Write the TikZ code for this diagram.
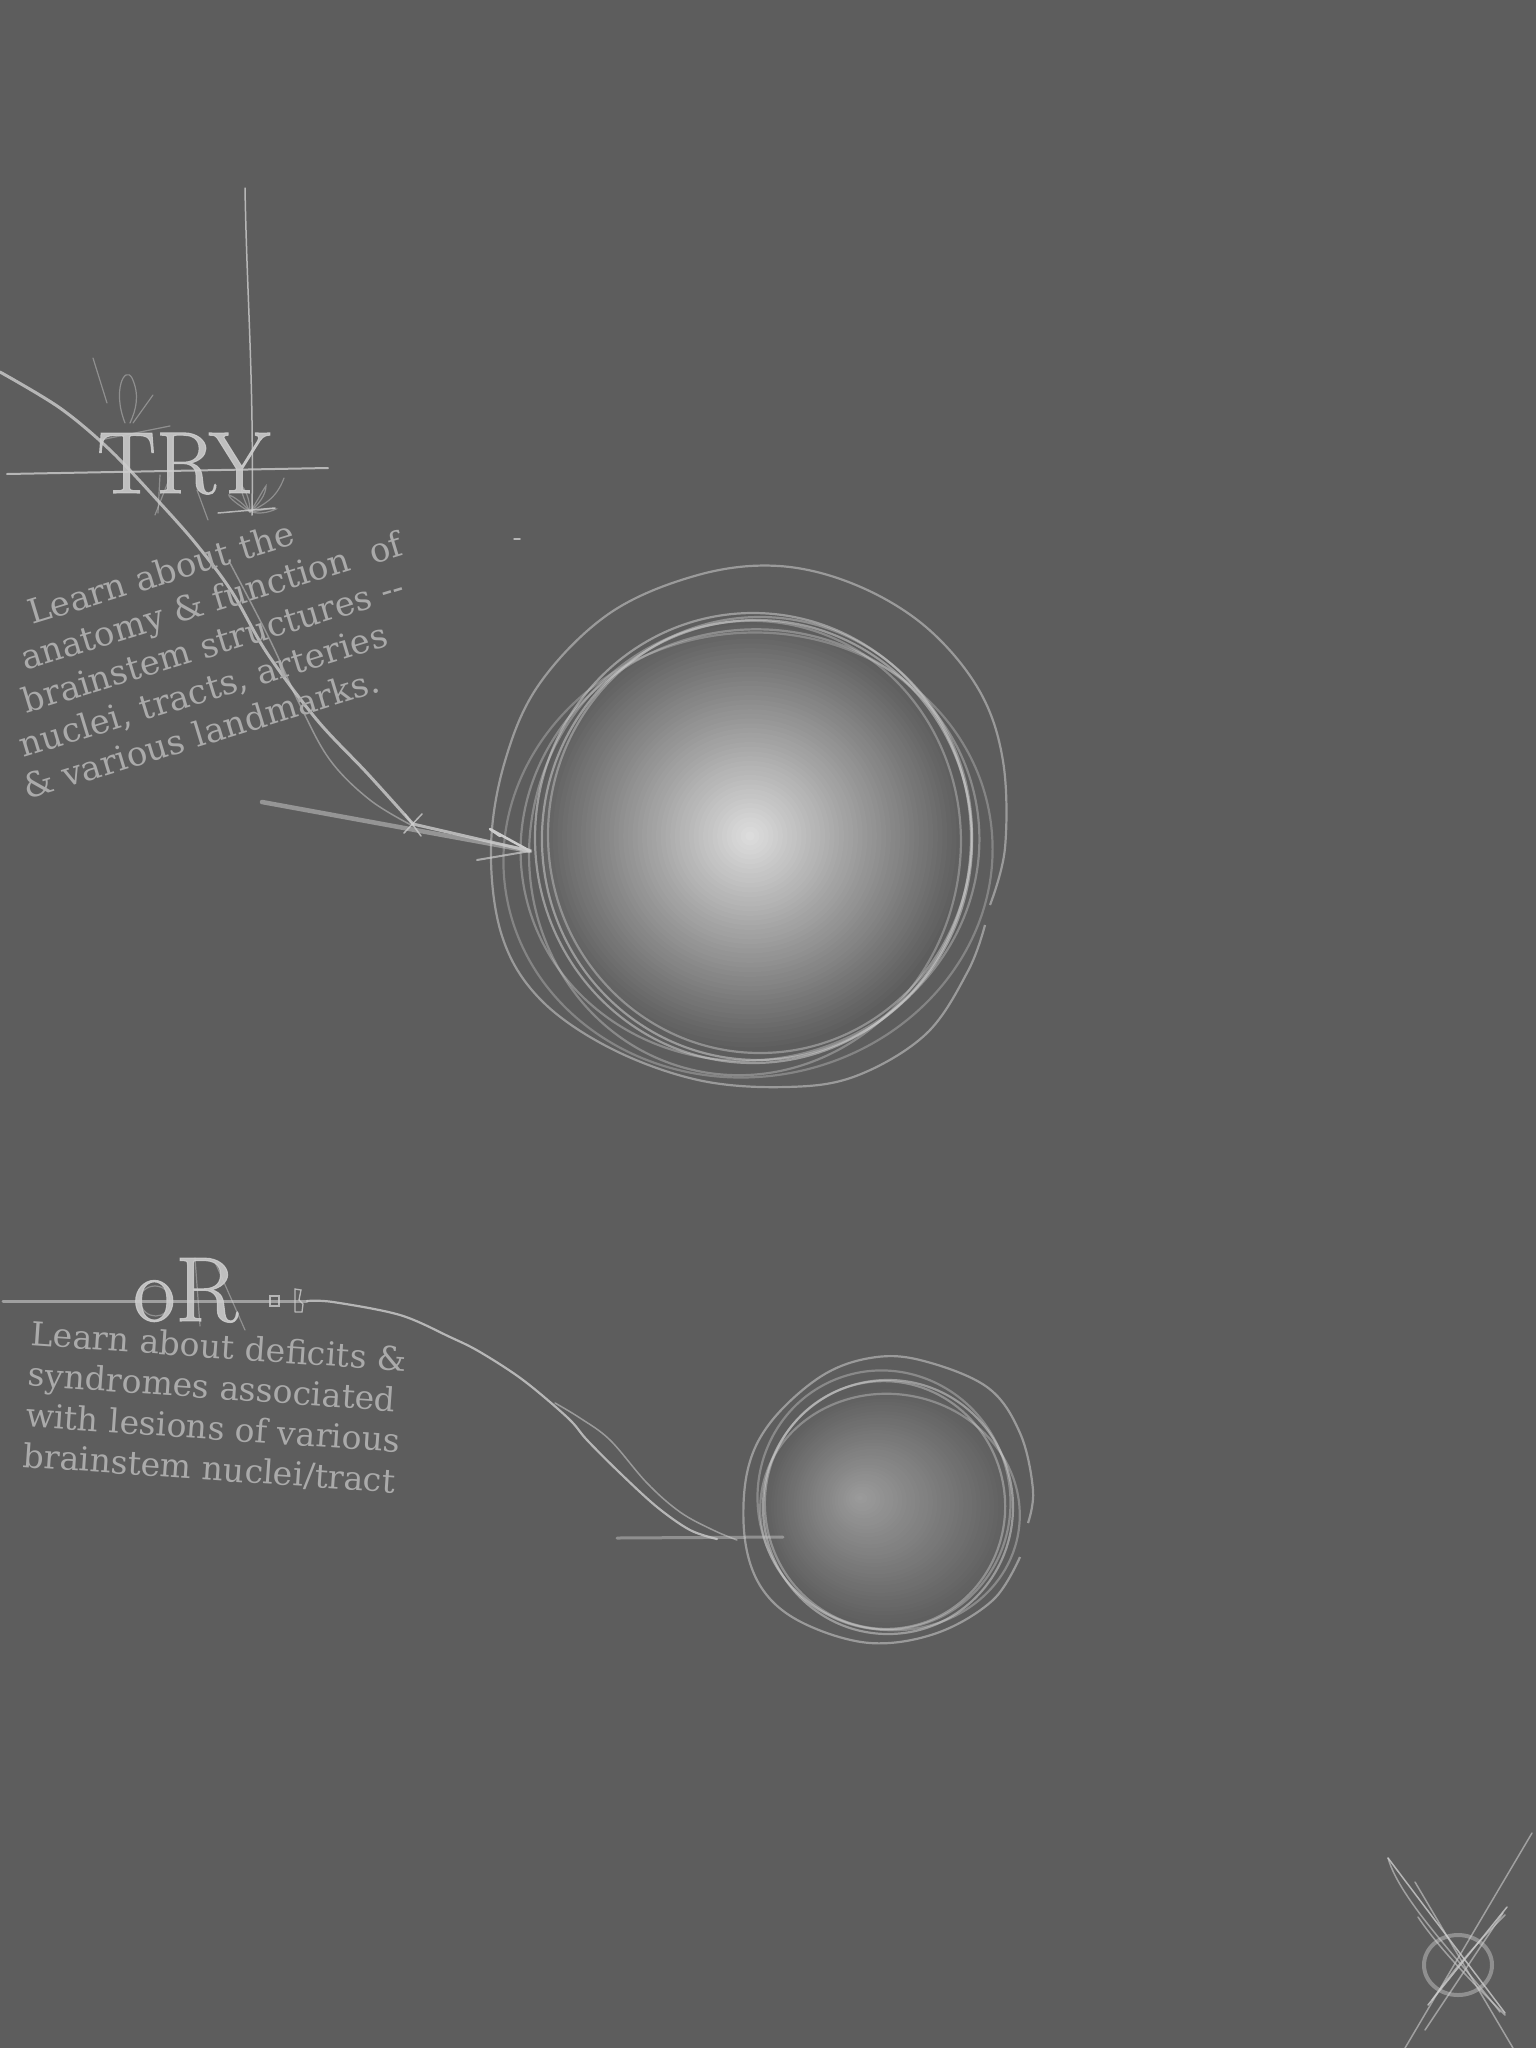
\documentclass[tikz,border=0pt]{standalone}
\usepackage{fontspec}
\newfontfamily\typefont{DejaVu Serif}
\newfontfamily\titlefont{Latin Modern Roman}[FakeBold=1.2]
\definecolor{bg}{RGB}{93,93,93}
\definecolor{ink}{RGB}{205,205,205}
\definecolor{txt}{RGB}{170,170,170}
\definecolor{ballhi}{RGB}{220,220,220}
\definecolor{balltwo}{RGB}{155,155,155}
\tikzset{
  sk/.style={draw=ink, line width=2.5pt, line cap=round, line join=round},
  skthin/.style={draw=ink, line width=1.5pt, line cap=round, draw opacity=0.8},
  skfaint/.style={draw=ink, line width=1.2pt, line cap=round, draw opacity=0.45},
  ringsty/.style={draw=ink, line width=2.2pt, draw opacity=0.55},
  blocksty/.style={text=txt, inner sep=0pt, align=left, anchor=base west},
  titlesty/.style={text=ink, inner sep=0pt, text opacity=0.88, anchor=base west}
}
\begin{document}
\begin{tikzpicture}[x=1pt,y=-1pt]
\useasboundingbox (0,0) rectangle (1536,2048);
\fill[bg] (0,0) rectangle (1536,2048);

% ---------- top ball gradient ----------
\foreach \i in {0,...,45}{
  \pgfmathsetmacro\r{216*(1-\i/46)}
  \pgfmathsetmacro\p{100*\i/45}
  \fill[ballhi!\p!bg] (750,836) circle[radius=\r];
}
\node[circle, minimum size=432pt, inner sep=0pt] (topball) at (750,836) {};

% ---------- top ball rings ----------
\draw[ringsty] plot[smooth, tension=0.6] coordinates {(990,905) (1005,848) (1003,761) (979,690) (926,627) (856,585) (779,566) (698,575) (610,613) (540,683) (505,761) (491,848) (502,936) (540,999) (610,1048) (698,1080) (786,1087) (856,1076) (926,1034) (968,971) (985,925)};
\draw[ringsty] (753,838) ellipse[x radius=218, y radius=225];
\draw[ringsty] (757,840) ellipse[x radius=215, y radius=220, rotate=5];
\draw[ringsty, draw opacity=0.4] (750,845) ellipse[x radius=230, y radius=215, rotate=12];
\draw[ringsty, draw opacity=0.4] (745,848) ellipse[x radius=215, y radius=228, rotate=-15];
\draw[ringsty, draw opacity=0.35] (748,855) ellipse[x radius=245, y radius=222, rotate=8];
\draw[ringsty, draw opacity=0.45] (760,835) ellipse[x radius=212, y radius=218];

% ---------- bottom ball gradient ----------
\foreach \i in {0,...,35}{
  \pgfmathsetmacro\t{\i/35}
  \pgfmathsetmacro\cx{888-28*\t}
  \pgfmathsetmacro\cy{1508-10*\t}
  \pgfmathsetmacro\rx{125*(1-\t)+3}
  \pgfmathsetmacro\ry{120*(1-\t)+2}
  \pgfmathsetmacro\p{100*\t}
  \fill[balltwo!\p!bg] (\cx,\cy) ellipse[x radius=\rx, y radius=\ry];
}
\node[circle, minimum size=250pt, inner sep=0pt] (botball) at (888,1507) {};

% ---------- bottom ball rings ----------
\draw[ringsty] plot[smooth, tension=0.6] coordinates {(1028,1523) (1033,1490) (1020,1433) (987,1387) (920,1360) (870,1358) (820,1377) (770,1423) (747,1473) (745,1540) (763,1590) (803,1623) (870,1643) (937,1633) (993,1600) (1020,1557)};
\draw[ringsty] (888,1507) ellipse[x radius=125, y radius=127];
\draw[ringsty, draw opacity=0.45] (885,1505) ellipse[x radius=120, y radius=124, rotate=10];
\draw[ringsty, draw opacity=0.4] (890,1512) ellipse[x radius=130, y radius=118, rotate=-8];
\draw[ringsty, draw opacity=0.4] (884,1500) ellipse[x radius=126, y radius=130, rotate=20];

% ---------- TRY title ----------
\coordinate (vtop) at (245,188);
\coordinate (vbot) at (252,515);
\draw[skthin] (vtop) .. controls (247,300) and (254,380) .. (vbot);
\draw[sk, line width=2pt, draw opacity=0.8] (7,474) -- (328,468);
\node[titlesty, font=\titlefont\fontsize{88}{90}\selectfont] (try) at (97,493) {TRY};
% sketch strokes round TRY
\draw[skfaint] (93,358) -- (107,403);
\draw[skfaint] (125,423) .. controls (112,390) and (125,365) .. (132,378) .. controls (140,395) and (136,410) .. (130,423);
\draw[skfaint] (153,395) -- (133,423);
\draw[skfaint] (158,513) -- (160,475);
\draw[skfaint] (155,515) -- (170,477);
\draw[skfaint] (197,490) -- (208,520);
\draw[skfaint] (100,440) -- (170,426);
% leaves under Y
\draw[skfaint] (250,512) .. controls (238,505) and (228,497) .. (229,495) .. controls (235,497) and (245,505) .. (250,512);
\draw[skfaint] (250,512) .. controls (243,498) and (240,488) .. (242,486) .. controls (247,492) and (250,502) .. (250,512);
\draw[skfaint] (250,512) .. controls (258,500) and (264,488) .. (266,486) .. controls (266,495) and (258,505) .. (250,512);
\draw[skfaint] (250,512) .. controls (262,505) and (276,500) .. (284,478);
\draw[skfaint] (252,512) .. controls (262,510) and (272,508) .. (276,509) .. controls (268,513) and (258,514) .. (252,512);
\draw[skthin] (218,513) -- (275,508);

% ---------- upper connector ----------
\coordinate (c1s) at (0,372);
\coordinate (tip1) at (530,851);
\coordinate (merge1) at (413,824);
\draw[sk, line width=3pt, draw opacity=0.8] plot[smooth, tension=0.55] coordinates {(0,372) (60,408) (110,450) (160,503) (197,545) (232,592) (267,653) (317,720) (367,773) (413,824)};
\draw[sk, line width=3pt, draw opacity=0.8] (merge1) -- (tip1);
\draw[skthin, draw opacity=0.5] plot[smooth, tension=0.6] coordinates {(230,563) (270,640) (300,705) (330,760) (370,800) (413,826)};
\draw[sk, line width=4.5pt, draw opacity=0.5] (262,802) -- (tip1);
\draw[sk, line width=2.5pt] (tip1) -- (490,829) -- (500,836);
\draw[sk, line width=2pt, draw opacity=0.7] (tip1) -- (477,860);
\draw[skthin] (405,814) -- (421,836);
\draw[skthin] (422,814) -- (404,833);
\draw[skthin] (514,539) -- (520,539);

% ---------- first text block (base = last line) ----------
\node[blocksty, rotate=17, font=\typefont\fontsize{34}{41.5}\selectfont] (blockA) at (27,800)
  {\hspace*{56pt}Learn about the\\
   \hspace*{36pt}anatomy \& function~ of\\
   \hspace*{25pt}brainstem structures -{}-\\
   \hspace*{8.5pt}nuclei, tracts, arteries\\
   \& various landmarks.};

% ---------- oR ----------
\draw[sk, line width=3pt, draw opacity=0.6] (3,1301) -- (307,1301);
\node[titlesty, font=\titlefont\fontsize{92}{94}\selectfont] (ortxt) at (133,1321) {oR};
\draw[skfaint] (140,1300) .. controls (140,1282) and (170,1280) .. (170,1302) .. controls (170,1320) and (142,1322) .. (140,1300);
\draw[skfaint] (195,1258) -- (200,1326);
\draw[skfaint] (215,1262) -- (245,1330);
\draw[skthin, line width=1.3pt] (270,1296) rectangle (279,1306);
\draw[skthin, line width=1.3pt] (295,1312) -- (295,1289) -- (301,1290) -- (299,1300) -- (303,1304) -- (302,1312) -- (295,1312);

% ---------- lower connector ----------
\coordinate (c2s) at (307,1301);
\coordinate (tip2) at (737,1540);
\draw[sk, line width=2.2pt, draw opacity=0.8] plot[smooth, tension=0.55] coordinates {(307,1301) (333,1302) (400,1315) (450,1337) (480,1352) (523,1380) (568,1418) (587,1440) (620,1473) (657,1507) (690,1530) (717,1539)};
\draw[skthin, draw opacity=0.55] plot[smooth, tension=0.6] coordinates {(555,1403) (580,1418) (610,1440) (647,1483) (680,1512) (713,1530) (737,1540)};
\draw[sk, line width=3pt, draw opacity=0.45] (617,1538) -- (783,1537);

% ---------- second text block (base = last line) ----------
\node[blocksty, rotate=-4, font=\typefont\fontsize{33}{40.7}\selectfont] (blockB) at (22,1467)
  {Learn about deficits \&\\
   syndromes associated\\
   with lesions of various\\
   brainstem nuclei/tract};

% ---------- bottom-right cross mark ----------
\draw[draw=ink, line width=4pt, draw opacity=0.45] (1458,1965) ellipse[x radius=34, y radius=30];
\draw[skthin, draw opacity=0.6] (1532,1833) -- (1405,2048);
\draw[skthin] (1388,1858) -- (1505,2013);
\draw[skthin, draw opacity=0.6] (1388,1858) .. controls (1400,1900) and (1460,1960) .. (1500,2012);
\draw[skthin, draw opacity=0.6] (1415,1882) -- (1513,2048);
\draw[skthin, draw opacity=0.6] (1418,1917) .. controls (1440,1950) and (1480,1990) .. (1505,2015);
\draw[skthin] (1428,2005) -- (1507,1907);
\draw[skthin, draw opacity=0.6] (1425,2030) -- (1503,1913);
\draw[skthin, draw opacity=0.6] (1432,2000) .. controls (1460,1960) and (1490,1930) .. (1505,1915);
\end{tikzpicture}
\end{document}
